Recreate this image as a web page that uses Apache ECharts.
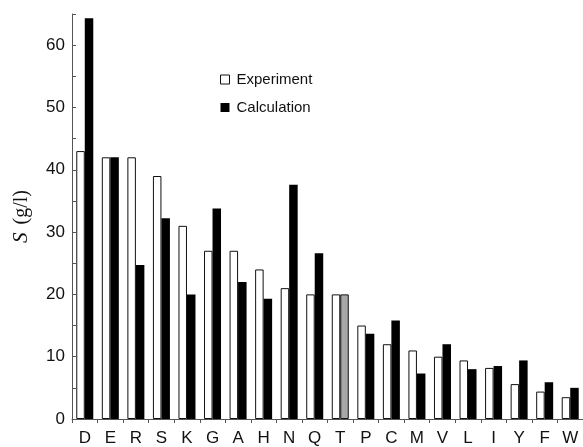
<!DOCTYPE html>
<html>
<head>
<meta charset="utf-8">
<script src="https://cdn.jsdelivr.net/npm/echarts@6/dist/echarts.min.js"></script>
<style>
  html, body { margin: 0; padding: 0; background: #fff; }
  #chart { width: 583px; height: 447px; }
</style>
</head>
<body>
<div id="chart"></div>
<script>
// Amino acid residues along the x axis
const residues = ['D', 'E', 'R', 'S', 'K', 'G', 'A', 'H', 'N', 'Q', 'T', 'P', 'C', 'M', 'V', 'L', 'I', 'Y', 'F', 'W'];
// Solubility S in g/l
const experiment = [43, 42, 42, 39, 31, 27, 27, 24, 21, 20, 20, 15, 12, 11, 10, 9.4, 8.2, 5.6, 4.4, 3.5];
const calculation = [64.3, 42, 24.7, 32.2, 20, 33.8, 22, 19.3, 37.6, 26.6, 20, 13.7, 15.8, 7.3, 12, 8, 8.5, 9.4, 5.9, 5];
// Residue whose calculated bar is shaded grey
const greyResidue = 'T';

const chart = echarts.init(document.getElementById('chart'), null, { renderer: 'canvas' });

const calcData = calculation.map((v, i) => residues[i] === greyResidue
  ? { value: v, itemStyle: { color: '#a8a8a8', borderColor: '#111', borderWidth: 1 } }
  : v);

chart.setOption({
  animation: false,
  backgroundColor: '#ffffff',
  grid: { left: 72, right: 0, top: 14, bottom: 28 },
  legend: {
    orient: 'vertical',
    left: 215,
    top: 67,
    itemWidth: 9,
    itemHeight: 9,
    itemGap: 13,
    icon: 'rect',
    textStyle: { fontFamily: 'Liberation Sans, Arial, sans-serif', fontSize: 15, color: '#111', padding: [0, 0, 0, 2] },
    data: [
      { name: 'Experiment', itemStyle: { color: '#fff', borderColor: '#111', borderWidth: 1 } },
      { name: 'Calculation', itemStyle: { color: '#000' } }
    ]
  },
  xAxis: {
    type: 'category',
    data: residues,
    axisLine: { lineStyle: { color: '#555', width: 1 } },
    axisTick: { show: true, alignWithLabel: false, inside: false, length: 4, lineStyle: { color: '#555' } },
    axisLabel: { color: '#111', fontFamily: 'Liberation Sans, Arial, sans-serif', fontSize: 17, margin: 11, interval: 0 }
  },
  yAxis: {
    type: 'value',
    min: 0,
    max: 65,
    interval: 5,
    name: '{s|S}{u|\u2009(g/l)}',
    nameLocation: 'middle',
    nameGap: 40,
    nameRotate: 90,
    nameTextStyle: {
      rich: {
        s: { fontFamily: 'Liberation Serif, Times New Roman, serif', fontStyle: 'italic', fontSize: 21, color: '#111', padding: [0, 4, 0, 0] },
        u: { fontFamily: 'Liberation Serif, Times New Roman, serif', fontSize: 20, color: '#111' }
      }
    },
    splitLine: { show: false },
    axisLine: { show: true, lineStyle: { color: '#555', width: 1 } },
    axisTick: { show: true, inside: true, length: 4, lineStyle: { color: '#555' } },
    axisLabel: {
      color: '#111',
      fontFamily: 'Liberation Sans, Arial, sans-serif',
      fontSize: 17,
      margin: 7,
      formatter: v => (v % 10 === 0 ? String(v) : '')
    }
  },
  series: [
    {
      name: 'Experiment',
      type: 'bar',
      data: experiment,
      barWidth: 8.5,
      barGap: '0%',
      itemStyle: { color: '#fff', borderColor: '#111', borderWidth: 1 }
    },
    {
      name: 'Calculation',
      type: 'bar',
      data: calcData,
      barWidth: 8.5,
      barGap: '0%',
      itemStyle: { color: '#000' }
    }
  ]
});
</script>
</body>
</html>
